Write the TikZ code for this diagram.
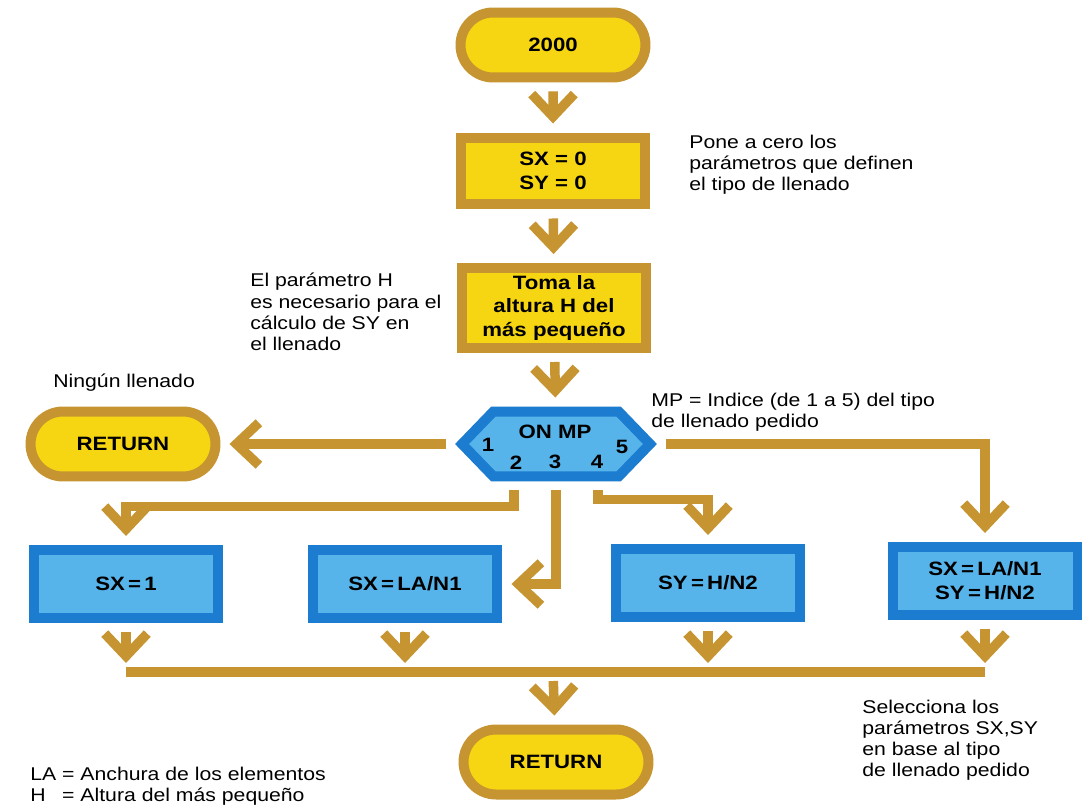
\documentclass[tikz,border=0pt]{standalone}
\usepackage{fontspec}
\setmainfont{Liberation Sans}[FakeStretch=1.15]
\usetikzlibrary{arrows.meta,shapes.misc,shapes.symbols}
\definecolor{ocre}{RGB}{198,148,48}
\definecolor{amarillo}{RGB}{246,214,18}
\definecolor{azulosc}{RGB}{28,124,208}
\definecolor{azulcl}{RGB}{86,180,234}
\tikzset{
  term/.style={rounded rectangle, draw=ocre, fill=amarillo, line width=0.2cm,
    minimum width=3.7cm, minimum height=1.3cm, inner sep=0pt,
    font=\fontsize{11}{13.5}\selectfont\bfseries},
  caja/.style={rectangle, draw=ocre, fill=amarillo, line width=0.2cm,
    minimum width=3.7cm, inner sep=0pt, align=center,
    font=\fontsize{11}{13.5}\selectfont\bfseries},
  azul/.style={rectangle, draw=azulosc, fill=azulcl, line width=0.2cm,
    minimum width=3.7cm, minimum height=1.36cm, inner sep=0pt, align=center,
    font=\fontsize{11}{13.5}\selectfont\bfseries},
  flecha/.style={draw=ocre, line width=0.19cm,
    -{Straight Barb[length=4.5mm,width=8.5mm]},
    shorten <=0.18cm, shorten >=0.18cm},
  nota/.style={anchor=north west, inner sep=0pt, align=left,
    font=\fontsize{10.5}{12}\selectfont},
  dig/.style={inner sep=0pt, font=\fontsize{11}{13}\selectfont\bfseries}
}
\begin{document}
\begin{tikzpicture}[x=0.02cm,y=-0.02cm]
  \useasboundingbox[fill=white] (0,0) rectangle (1084,804);
  %bloques
  \node[term] (inicio) at (553,45) {2000};
  \node[caja, minimum height=1.34cm] (cero) at (553,171) {SX = 0\\SY = 0};
  \node[caja, minimum height=1.6cm] (altura) at (554,308) {Toma la\\altura H del\\más pequeño};
  \node[signal, signal to=west and east, signal pointer angle=92,
    draw=azulosc, fill=azulcl, line width=0.2cm,
    minimum width=3.76cm, minimum height=1.3cm, inner sep=0pt] (onmp) at (556,444) {};
  \node[dig] (mp) at (555,432) {ON MP};
  \foreach \n/\x/\y in {1/488/445,2/516/463,3/555/462,4/597/462,5/622/447}
    \node[dig] (d\n) at (\x,\y) {\n};
  \node[term] (retizq) at (123,444) {RETURN};
  \node[azul] (sx) at (126,584) {SX{\,}={\,}1};
  \node[azul] (sxla) at (405,584) {SX{\,}={\,}LA/N1};
  \node[azul] (syh) at (708,583) {SY{\,}={\,}H/N2};
  \node[azul] (sxsy) at (985,581) {SX{\,}={\,}LA/N1\\SY{\,}={\,}H/N2};
  \node[term] (retfin) at (556,762) {RETURN};
  \coordinate (barra) at (553,672);
  %flechas
  \draw[flecha] (inicio) -- (cero);
  \draw[flecha] (cero) -- (altura);
  \draw[flecha] (altura) -- (onmp);
  \draw[flecha] (onmp.west) -- (retizq.east);
  \draw[flecha] ([xshift=-0.84cm]onmp.south) -- ++(0,25) -| (sx.north);
  \draw[flecha] (onmp.south) |- (sxla.east);
  \draw[flecha] ([xshift=0.84cm]onmp.south) -- ++(0,18) -| (syh.north);
  \draw[flecha] (onmp.east) -| (sxsy.north);
  \foreach \b in {sx,sxla,syh,sxsy}
    \draw[flecha] (\b.south) -- (\b.south |- barra);
  \draw[ocre, line width=0.19cm] (sx.south |- barra) -- (sxsy.south |- barra);
  \draw[flecha] (barra) -- (retfin);
  %notas
  \node[nota] (pone) at (689,135) {Pone a cero los\\parámetros que definen\\el tipo de llenado};
  \node[nota] (parh) at (250,273) {El parámetro H\\es necesario para el\\cálculo de SY en\\el llenado};
  \node[nota] (ningun) at (53,374) {Ningún llenado};
  \node[nota] (indice) at (651,393) {MP = Indice (de 1 a 5) del tipo\\de llenado pedido};
  \node[nota] (selec) at (862,700) {Selecciona los\\parámetros SX,SY\\en base al tipo\\de llenado pedido};
  \node[nota] (leyenda) at (30,765) {\begin{tabular}{@{}l@{ = }l@{}}LA & Anchura de los elementos\\H & Altura del más pequeño\end{tabular}};
\end{tikzpicture}
\end{document}
